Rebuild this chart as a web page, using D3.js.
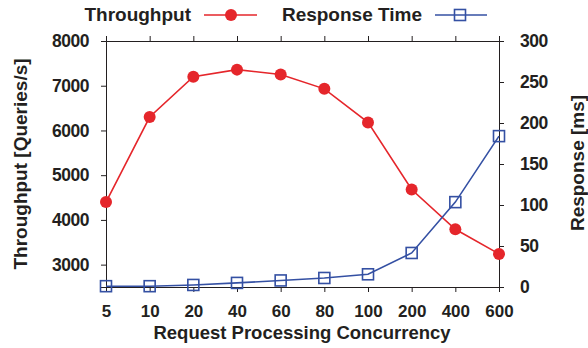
<!DOCTYPE html>
<meta charset="utf-8">
<style>
body{ margin:0; background:#fff; }
text{
    font-family:"Liberation Sans", Arial, sans-serif;
    font-weight:bold;
    fill:#231f20;
}
.axis text{ font-size:17.5px; letter-spacing:-0.5px; }
.axis.x text{ font-size:17px; letter-spacing:0; }
.axis path, .axis line{ stroke:#231f20; stroke-width:1; }
.title{ font-size:19px; }
.xtitle{ font-size:18.5px; }
</style>
<body>
<div id="chart"></div>
<script src="https://d3js.org/d3.v7.min.js"></script>
<script>
var concurrency = ["5","10","20","40","60","80","100","200","400","600"];
var throughput = [4400, 6300, 7200, 7360, 7250, 6930, 6180, 4680, 3790, 3240];
var responseTime = [1, 1, 2.5, 5, 8, 11, 15.5, 41.5, 103.5, 184];
var leftTicks = [3000, 4000, 5000, 6000, 7000, 8000];
var rightTicks = [0, 50, 100, 150, 200, 250, 300];

var W = 588, H = 348;
var m = {top:41, right:89, bottom:61, left:106};
var w = W - m.left - m.right, h = H - m.top - m.bottom;
var red = "#e5262b", blue = "#3450a3";

var svg = d3.select("#chart").append("svg").attr("width", W).attr("height", H);
var g = svg.append("g").attr("transform", "translate(" + m.left + "," + m.top + ")");

var x = d3.scalePoint().domain(concurrency).range([0, w]);
var yL = d3.scaleLinear().domain([2500, 8000]).range([h, 0]);
var yR = d3.scaleLinear().domain([0, 300]).range([h, 0]);

// frame + axes
g.append("g").attr("class","axis x").attr("transform","translate(0,"+h+")")
    .call(d3.axisBottom(x).tickSize(5).tickPadding(13));
g.append("g").attr("class","axis")
    .call(d3.axisTop(x).tickSize(5).tickFormat(""));
g.append("g").attr("class","axis")
    .call(d3.axisLeft(yL).tickValues(leftTicks).tickSize(5).tickPadding(12).tickFormat(d3.format("d")));
g.append("g").attr("class","axis").attr("transform","translate("+w+",0)")
    .call(d3.axisRight(yR).tickValues(rightTicks).tickSize(5).tickPadding(16));

// throughput line
g.append("path").datum(throughput)
    .attr("fill","none").attr("stroke",red).attr("stroke-width",1.6)
    .attr("d", d3.line().x((d,i)=>x(concurrency[i])).y(d=>yL(d)));
g.selectAll(".dot").data(throughput).enter().append("circle")
    .attr("cx",(d,i)=>x(concurrency[i])).attr("cy",d=>yL(d))
    .attr("r",6).attr("fill",red);

// response time line
g.append("path").datum(responseTime)
    .attr("fill","none").attr("stroke",blue).attr("stroke-width",1.6)
    .attr("d", d3.line().x((d,i)=>x(concurrency[i])).y(d=>yR(d)));
g.selectAll(".sq").data(responseTime).enter().append("rect")
    .attr("x",(d,i)=>x(concurrency[i]) - 5.5).attr("y",d=>yR(d) - 5.5)
    .attr("width",11).attr("height",11)
    .attr("fill","none").attr("stroke",blue).attr("stroke-width",1.6);

// axis titles
svg.append("text").attr("class","title xtitle").attr("text-anchor","middle")
    .attr("x", 302).attr("y", 339).text("Request Processing Concurrency");
svg.append("text").attr("class","title").attr("text-anchor","middle")
    .attr("transform","translate(27,164) rotate(-90)").text("Throughput [Queries/s]");
svg.append("text").attr("class","title").attr("text-anchor","middle")
    .attr("transform","translate(584,163) rotate(-90)").text("Response [ms]");

// legend
var leg = svg.append("g");
leg.append("text").attr("class","title").attr("x",191).attr("y",21)
    .attr("text-anchor","end").text("Throughput");
leg.append("line").attr("x1",204).attr("x2",257).attr("y1",15).attr("y2",15)
    .attr("stroke",red).attr("stroke-width",1.6);
leg.append("circle").attr("cx",231).attr("cy",15).attr("r",6).attr("fill",red);
leg.append("text").attr("class","title").attr("x",422).attr("y",21)
    .attr("text-anchor","end").text("Response Time");
leg.append("line").attr("x1",435).attr("x2",487).attr("y1",15).attr("y2",15)
    .attr("stroke",blue).attr("stroke-width",1.6);
leg.append("rect").attr("x",460-5.5).attr("y",15-5.5).attr("width",11).attr("height",11)
    .attr("fill","none").attr("stroke",blue).attr("stroke-width",1.6);
</script>
</body>
